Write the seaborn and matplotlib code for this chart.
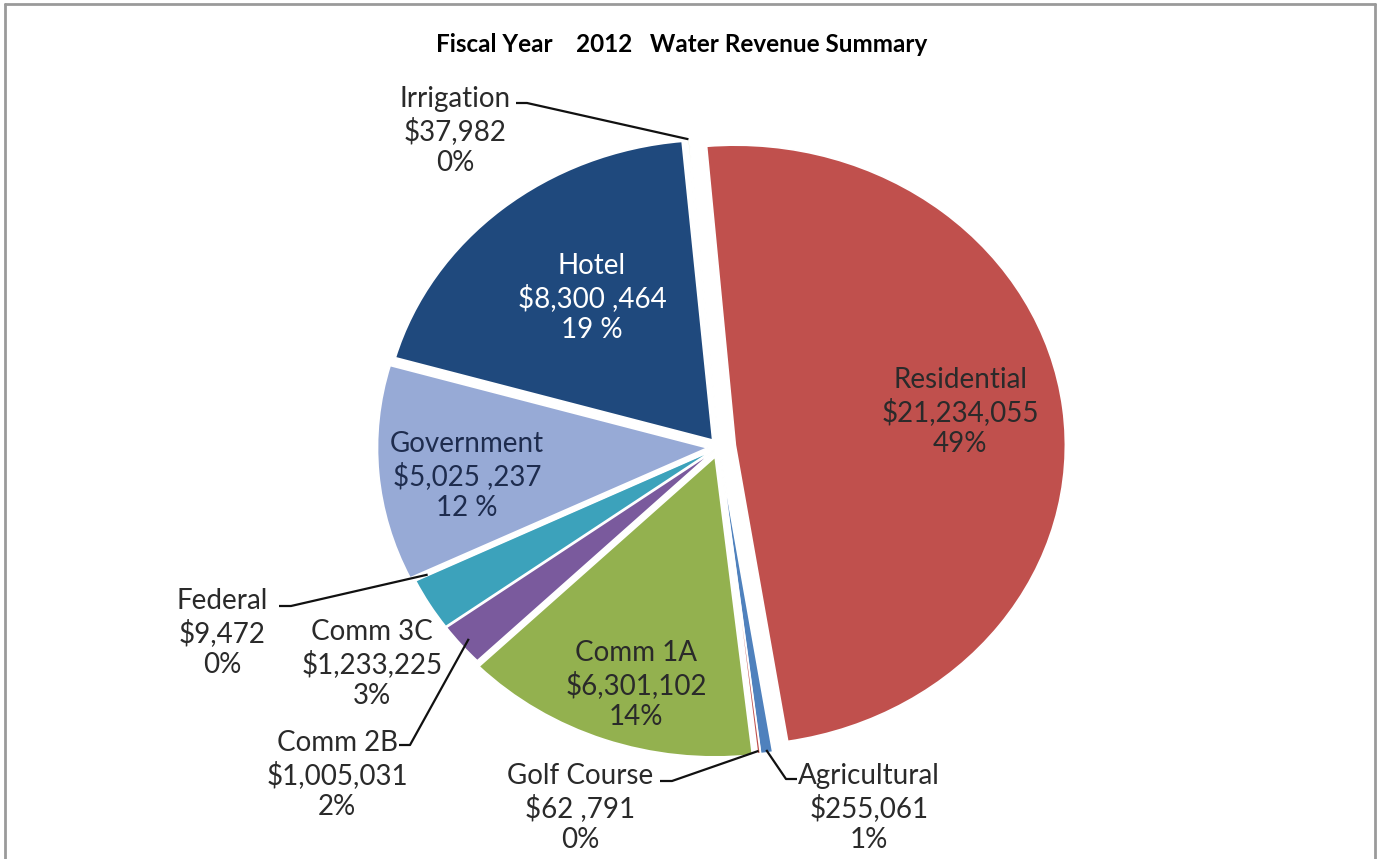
import numpy as np
import pandas as pd
import matplotlib
matplotlib.use("Agg")
import matplotlib.pyplot as plt
from matplotlib.lines import Line2D
import seaborn as sns

# Revenue by customer class, FY 2012 (clockwise from 12 o'clock)
categories = ["Residential", "Agricultural", "Golf Course", "Comm 1A", "Comm 2B",
              "Comm 3C", "Federal", "Government", "Hotel", "Irrigation"]
revenue = [21234055, 255061, 62791, 6301102, 1005031,
           1233225, 9472, 5025237, 8300464, 37982]
money_labels = ["$21,234,055", "$255,061", "$62 ,791", "$6,301,102", "$1,005,031",
                "$1,233,225", "$9,472", "$5,025 ,237", "$8,300 ,464", "$37,982"]
pct_labels = ["49%", "1%", "0%", "14%", "2%", "3%", "0%", "12 %", "19 %", "0%"]

df = pd.DataFrame({"category": categories, "revenue": revenue,
                   "money": money_labels, "pct": pct_labels})

colors = ["#C0504D", "#4F81BD", "#C0504D", "#93B14F", "#7A5A9D",
          "#3CA2BB", "#F79646", "#97AAD6", "#1F497D", "#C4D79B"]
explode = [0.05, 0.03, 0.03, 0.035, 0.022, 0.022, 0.03, 0.035, 0.03, 0.03]

sns.set_theme(style="white")
plt.rcParams["font.family"] = ["Lato", "DejaVu Sans"]

W, H = 1377, 859
fig = plt.figure(figsize=(W / 100, H / 100), dpi=100)
fig.patch.set_facecolor("white")
ax = fig.add_axes([0, 0, 1, 1])

# pie geometry in pixels (slightly wider than tall)
CX, CY, RX, RY = 719, 447, 330, 300


def P(x, y):
    return ((x - CX) / RX, (CY - y) / RY)


wedges, _ = ax.pie(df["revenue"], colors=colors, startangle=95, counterclock=False,
                   explode=explode,
                   wedgeprops=dict(edgecolor="white", linewidth=1.2))
ax.set_aspect("auto")
ax.set_xlim((0 - CX) / RX, (W - CX) / RX)
ax.set_ylim((CY - H) / RY, CY / RY)
ax.axis("off")


def arc_point(w, frac=1.0):
    mid = np.deg2rad((w.theta1 + w.theta2) / 2)
    cx, cy = w.center
    return cx + frac * w.r * np.cos(mid), cy + frac * w.r * np.sin(mid)


# label block centres (pixels) and colours
label_pos = {
    "Residential": (960, 412, "#2A2A2A"),
    "Agricultural": (869, 808, "#2A2A2A"),
    "Golf Course": (580, 808, "#2A2A2A"),
    "Comm 1A": (636, 685, "#2A2A2A"),
    "Comm 2B": (337, 775, "#2A2A2A"),
    "Comm 3C": (372, 664, "#2A2A2A"),
    "Federal": (222, 633, "#2A2A2A"),
    "Government": (467, 476, "#1E2C4E"),
    "Hotel": (592, 298, "white"),
    "Irrigation": (455, 131, "#2A2A2A"),
}

for _, row in df.iterrows():
    x, y, c = label_pos[row["category"]]
    ax.text(*P(x, y), f"{row['category']}\n{row['money']}\n{row['pct']}",
            ha="center", va="center", multialignment="center",
            fontsize=20, color=c, linespacing=1.25)

# leader lines: label anchor, short elbow, then into the slice
leaders = {
    "Irrigation": ((516, 103), (527, 103), 1.0),
    "Federal": ((279, 606), (291, 606), 0.95),
    "Comm 2B": ((399, 745), (410, 745), 0.97),
    "Golf Course": ((660, 781), (672, 781), 0.99),
    "Agricultural": ((797, 779), (786, 779), 0.99),
}
for name, (a, b, frac) in leaders.items():
    w = wedges[categories.index(name)]
    tx, ty = arc_point(w, frac)
    xs = [P(*a)[0], P(*b)[0], tx]
    ys = [P(*a)[1], P(*b)[1], ty]
    ax.plot(xs, ys, color="#111111", lw=1.6, solid_capstyle="butt")

ax.text(*P(682, 45), "Fiscal Year    2012   Water Revenue Summary",
        ha="center", va="center", fontsize=17.5, fontweight="bold", color="black")

# chart area frame
for (x0, y0, x1, y1) in [(5, 4, 1375, 4), (5, 4, 5, 859), (1375, 4, 1375, 859)]:
    fig.add_artist(Line2D([x0 / W, x1 / W], [1 - y0 / H, 1 - y1 / H],
                          transform=fig.transFigure, color="#9A9A9A", lw=2))

fig.savefig("out.png", dpi=100, facecolor="white")
